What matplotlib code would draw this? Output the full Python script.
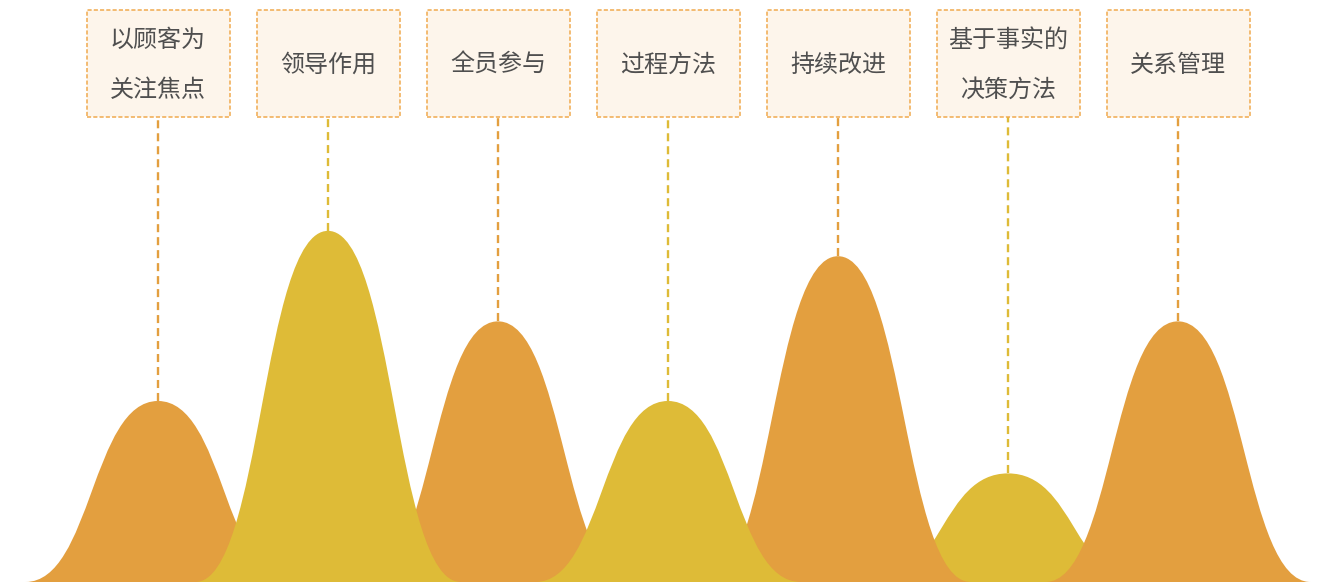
import matplotlib.pyplot as plt
from matplotlib.path import Path
from matplotlib.patches import PathPatch, Rectangle

plt.rcParams['font.family'] = ['Noto Sans CJK SC', 'DejaVu Sans']

labels = ['以顾客为\n关注焦点', '领导作用', '全员参与', '过程方法', '持续改进', '基于事实的\n决策方法', '关系管理']
values = [50, 97, 72, 50, 90, 30, 72]
colors = ['#E39F3F', '#DEBB37', '#E39F3F', '#DEBB37', '#E39F3F', '#DEBB37', '#E39F3F']
zorders = [2, 3, 2, 3, 2, 1, 2]

W, H = 1325, 584
px_x = 170.0      # pixels per category
px_y = 3.62       # pixels per value unit
x0_px = 158       # first category centre
base_px = 582     # baseline, from top

fig = plt.figure(figsize=(W / 100, H / 100), dpi=100)
ax = fig.add_axes([0, 0, 1, 1])
ax.set_xlim(-x0_px / px_x, (W - x0_px) / px_x)
ax.set_ylim(-(H - base_px) / px_y, base_px / px_y)
ax.axis('off')

half = 0.78  # half width of each mountain, category units

box_w = 143 / px_x
box_top = (base_px - 10) / px_y
box_bot = (base_px - 117) / px_y

for i, (lab, v, c, z) in enumerate(zip(labels, values, colors, zorders)):
  # mountain shape: two cubic beziers
  verts = [(i - half, 0), (i - half / 2, 0), (i - half / 2, v), (i, v),
           (i + half / 2, v), (i + half / 2, 0), (i + half, 0), (i - half, 0)]
  codes = [Path.MOVETO, Path.CURVE4, Path.CURVE4, Path.CURVE4,
           Path.CURVE4, Path.CURVE4, Path.CURVE4, Path.CLOSEPOLY]
  ax.add_patch(PathPatch(Path(verts, codes), facecolor=c, edgecolor='none', zorder=z))

  # dashed line up to label box
  ax.plot([i, i], [v, box_bot], color=c, lw=1.7, linestyle=(0, (3.4, 2.1)), zorder=4)

  # label box
  ax.add_patch(Rectangle((i - box_w / 2, box_bot), box_w, box_top - box_bot,
                         facecolor='#FDF5EB', edgecolor='#F0AA4E', lw=1.1,
                         linestyle=(0, (2.7, 1.4)), zorder=5))
  ax.text(i, (box_top + box_bot) / 2 - 1.5 / px_y, lab, ha='center', va='center',
          fontsize=17.3, color='#4F4F4F', linespacing=2.2, zorder=6)

fig.savefig('out.png', dpi=100)
